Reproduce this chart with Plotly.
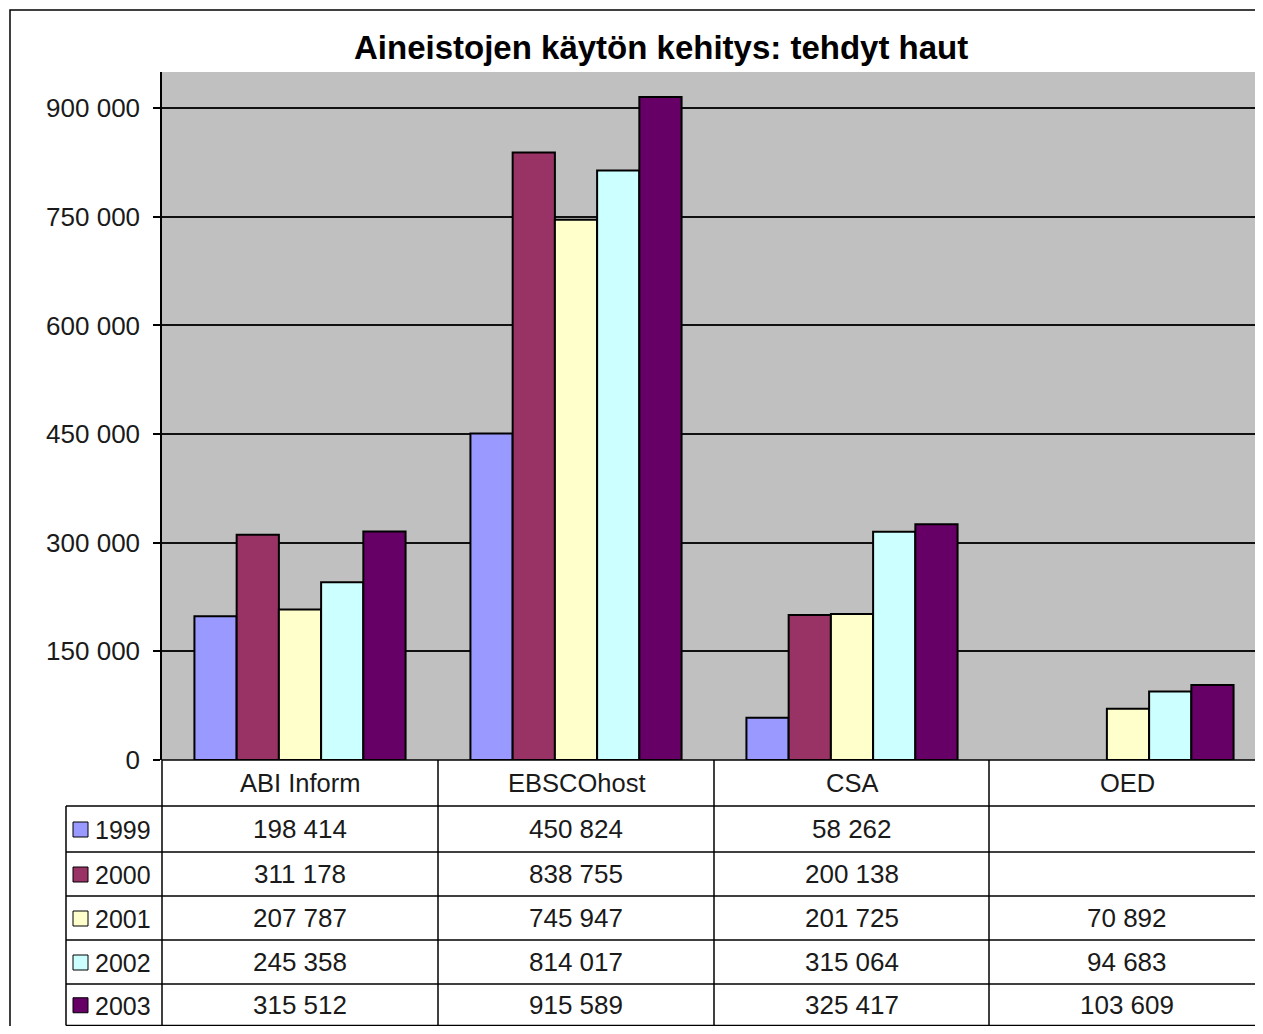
import plotly.graph_objects as go

categories = ["ABI Inform", "EBSCOhost", "CSA", "OED"]
years = ["1999", "2000", "2001", "2002", "2003"]
v1999 = [198414, 450824, 58262, None]
v2000 = [311178, 838755, 200138, None]
v2001 = [207787, 745947, 201725, 70892]
v2002 = [245358, 814017, 315064, 94683]
v2003 = [315512, 915589, 325417, 103609]
series = [v1999, v2000, v2001, v2002, v2003]
colors = ["#9999FF", "#993366", "#FFFFCC", "#CCFFFF", "#660066"]
y_ticks = [0, 150000, 300000, 450000, 600000, 750000, 900000]
title = "Aineistojen käytön kehitys: tehdyt haut"

# page has an 8px body margin; the figure is sized so the page fits the window
OFF = 8
W, H = 1263 - 2 * OFF, 1034 - 2 * OFF
FONT = "Liberation Sans, Arial, sans-serif"


def px(x):
    return (x - OFF) / W


def py(y):
    return 1 - (y - OFF) / H


def fmt(v):
    return "" if v is None else f"{v:,}".replace(",", " ")


fig = go.Figure()
for name, vals, col in zip(years, series, colors):
    fig.add_trace(go.Bar(
        x=categories, y=vals, name=name,
        marker=dict(color=col, line=dict(color="#000000", width=2)),
    ))

plot_left, plot_top, plot_bottom = 162, 72, 760
cat_w = 276.0
table_left = 66
row_lines = [806, 852, 896, 940, 984, 1025.5]
col_lines = [162, 438, 714, 989, 1265]

shapes = []
line = dict(color="#000000", width=1.5)
shapes.append(dict(type="line", xref="paper", yref="paper",
                   x0=px(plot_left), x1=1.0, y0=py(plot_bottom), y1=py(plot_bottom), line=line))
for ry in row_lines:
    shapes.append(dict(type="line", xref="paper", yref="paper",
                       x0=px(table_left), x1=1.0, y0=py(ry), y1=py(ry), line=line))
shapes.append(dict(type="line", xref="paper", yref="paper",
                   x0=px(table_left), x1=px(table_left), y0=py(row_lines[0]), y1=py(row_lines[-1]), line=line))
for cx in col_lines[:-1]:
    shapes.append(dict(type="line", xref="paper", yref="paper",
                       x0=px(cx), x1=px(cx), y0=py(plot_bottom), y1=py(row_lines[-1]), line=line))
shapes.append(dict(type="rect", xref="paper", yref="paper",
                   x0=px(10), x1=px(1400), y0=py(1200), y1=py(10),
                   line=dict(color="#000000", width=1.5), fillcolor="rgba(0,0,0,0)"))

TXT = "#1a1a1a"
annotations = []
for i, c in enumerate(categories):
    cxm = (col_lines[i] + col_lines[i + 1]) / 2
    annotations.append(dict(text=c, x=px(cxm), y=py((plot_bottom + row_lines[0]) / 2),
                            xref="paper", yref="paper", showarrow=False,
                            xanchor="center", yanchor="middle",
                            font=dict(family=FONT, size=25.5, color=TXT)))
for r, (name, vals, col) in enumerate(zip(years, series, colors)):
    y0, y1 = row_lines[r], row_lines[r + 1]
    ym = (y0 + y1) / 2
    shapes.append(dict(type="rect", xref="paper", yref="paper",
                       x0=px(73), x1=px(88), y0=py(ym + 8), y1=py(ym - 7),
                       fillcolor=col, line=dict(color="#000000", width=1)))
    annotations.append(dict(text=name, x=px(93), y=py(ym + 1), xref="paper", yref="paper",
                            showarrow=False, xanchor="left", yanchor="middle",
                            font=dict(family=FONT, size=25, color=TXT)))
    for i, v in enumerate(vals):
        cxm = (col_lines[i] + col_lines[i + 1]) / 2
        annotations.append(dict(text=fmt(v), x=px(cxm), y=py(ym), xref="paper", yref="paper",
                                showarrow=False, xanchor="center", yanchor="middle",
                                font=dict(family=FONT, size=26, color=TXT)))

annotations.append(dict(text="<b>" + title + "</b>", x=px(661), y=py(48), xref="paper", yref="paper",
                        showarrow=False, xanchor="center", yanchor="middle",
                        font=dict(family=FONT, size=33, color="#000000")))

x_end = -0.5 + (W + OFF - plot_left) / cat_w

fig.update_layout(
    width=W, height=H,
    autosize=False,
    margin=dict(l=0, r=0, t=0, b=0, pad=0, autoexpand=False),
    paper_bgcolor="#FFFFFF",
    plot_bgcolor="#C0C0C0",
    showlegend=False,
    barmode="group",
    bargap=0.235,
    bargroupgap=0,
    separators=". ",
    shapes=shapes,
    annotations=annotations,
    xaxis=dict(domain=[px(plot_left), 1.0], range=[-0.5, x_end],
               showticklabels=False, ticks="", automargin=False,
               showgrid=False, showline=False, zeroline=False),
    yaxis=dict(domain=[py(plot_bottom), py(plot_top)], range=[0, 950000],
               tickvals=y_ticks, tickformat=",d", automargin=False,
               ticks="outside", ticklen=7, tickcolor="#000000", tickwidth=1.5,
               ticklabelstandoff=8,
               showline=True, linecolor="#000000", linewidth=1.5,
               showgrid=True, gridcolor="#111111", gridwidth=1.5,
               zeroline=False,
               tickfont=dict(family=FONT, size=26, color=TXT)),
)

fig.write_html("out.html")
